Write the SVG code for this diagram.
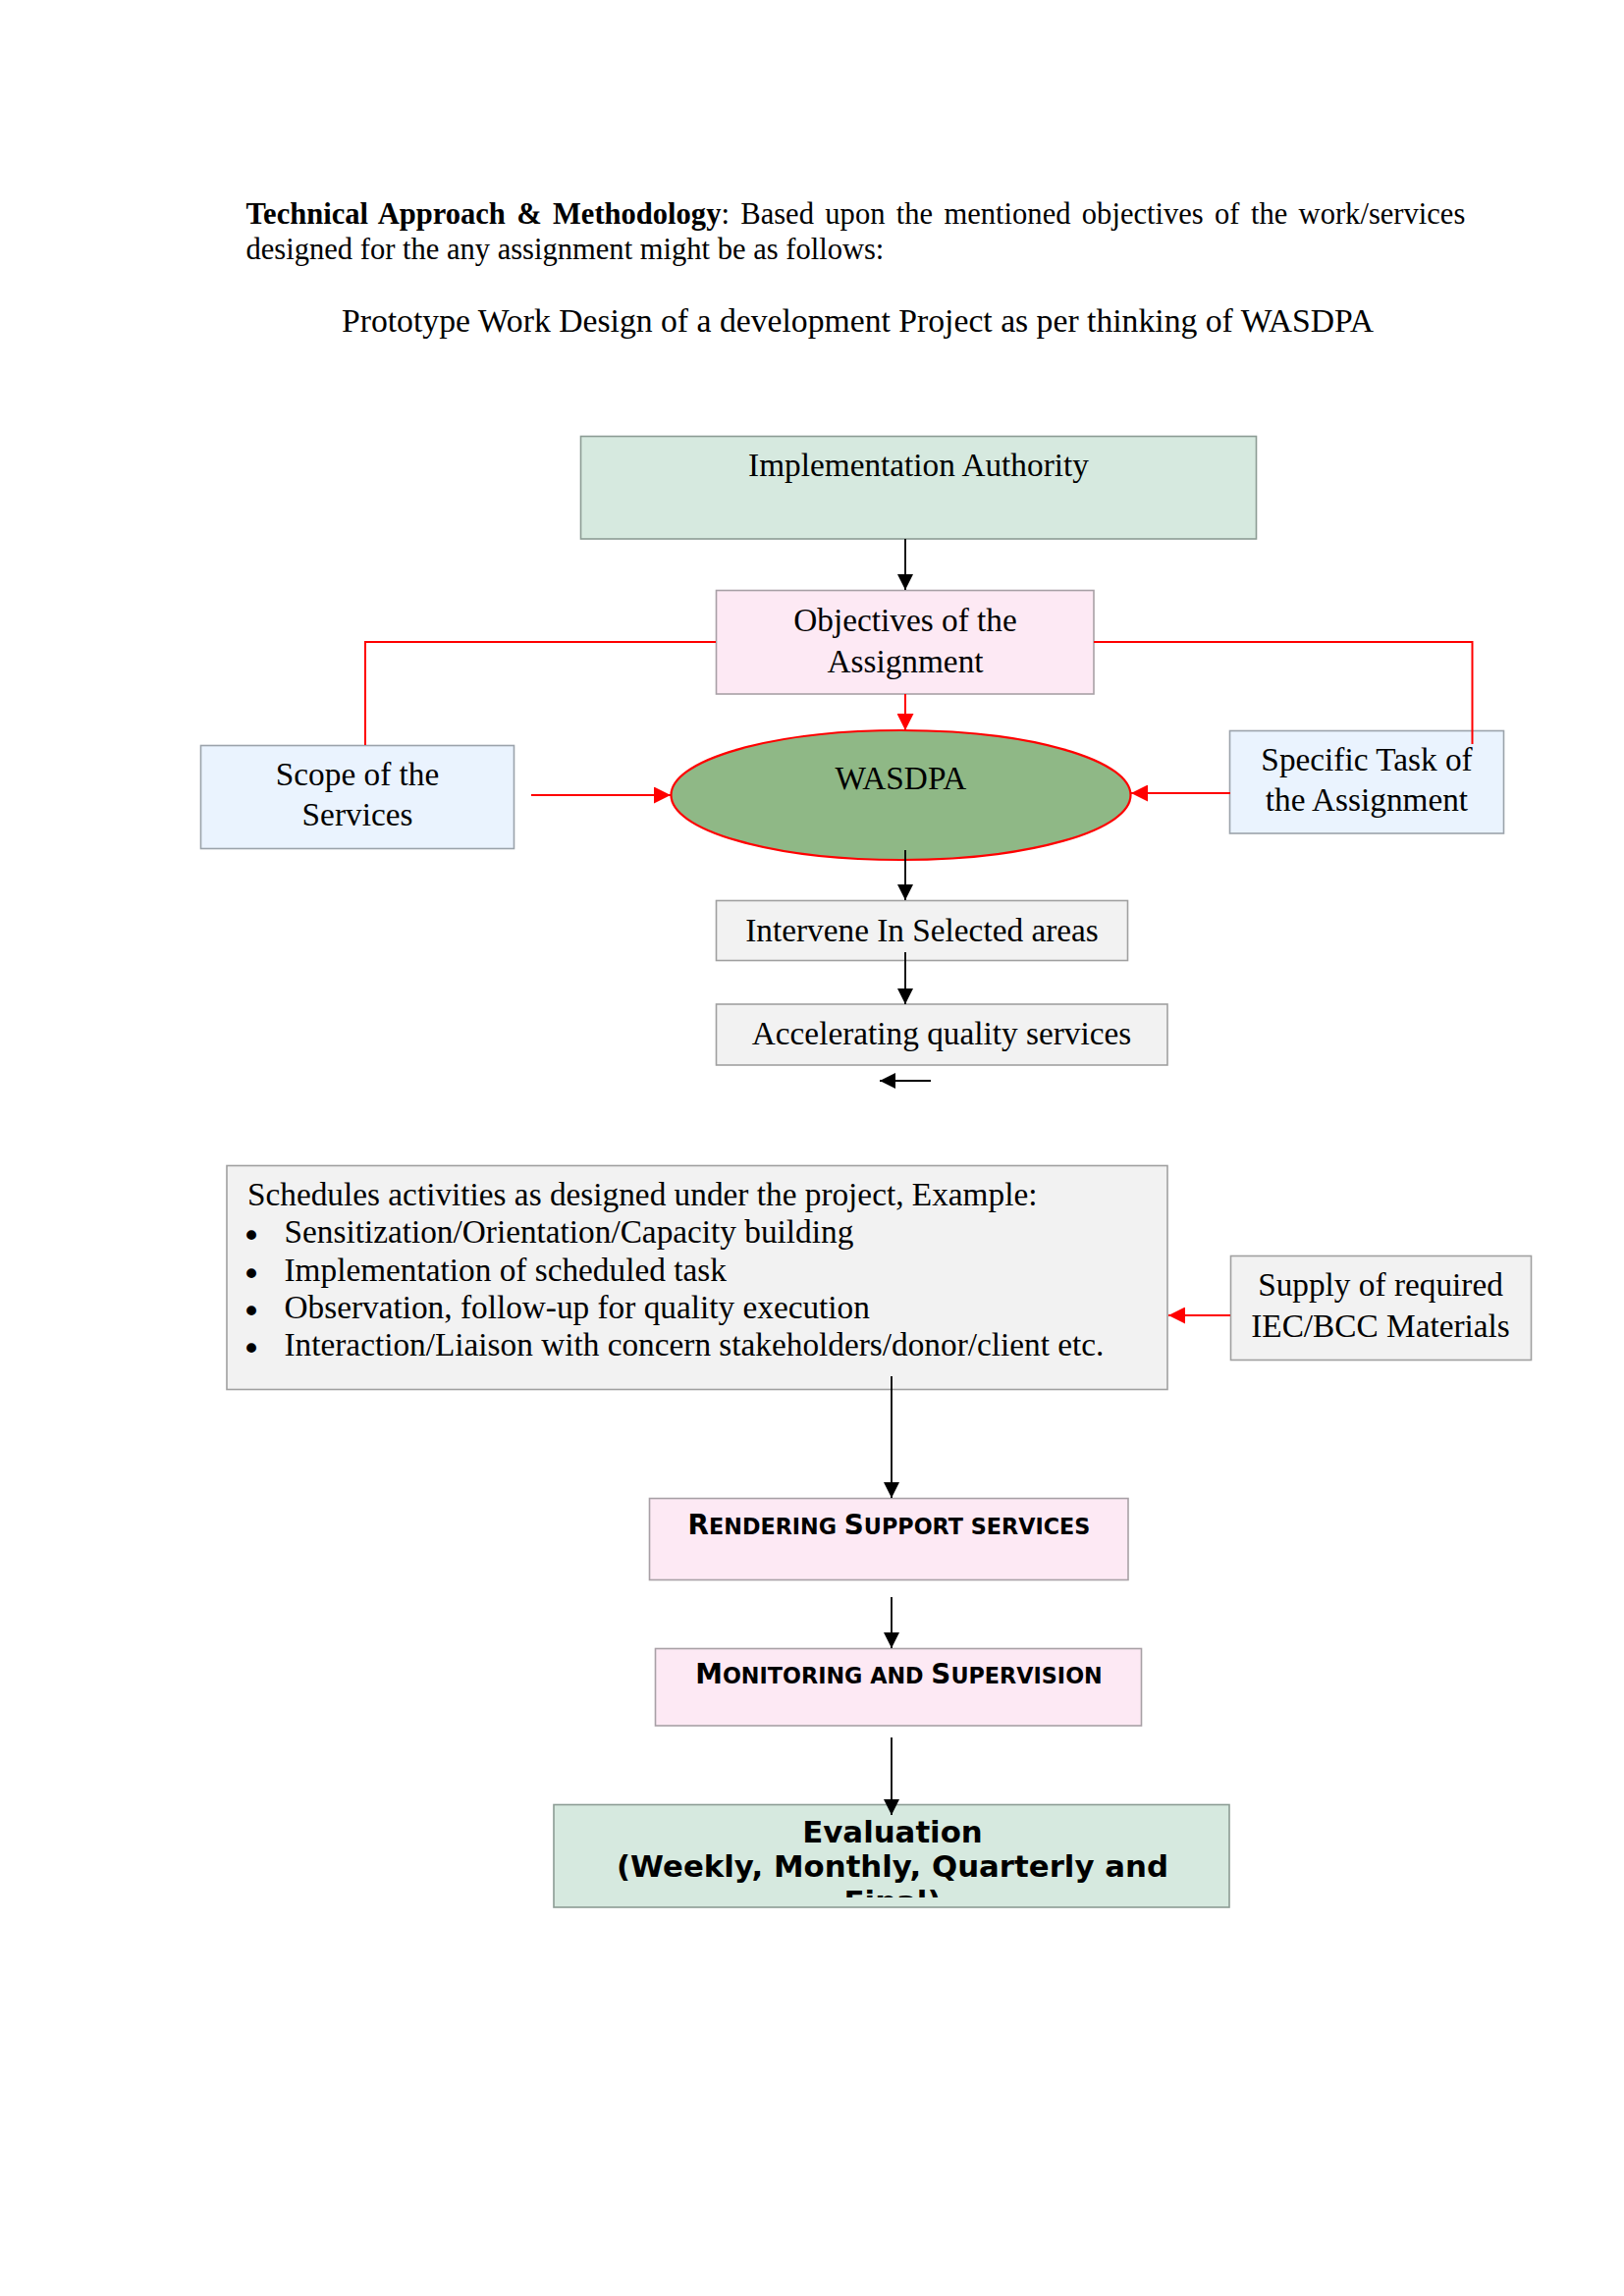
<svg xmlns="http://www.w3.org/2000/svg" width="1654" height="2339" viewBox="0 0 1654 2339">
<style>
.serif{font-family:"Liberation Serif","Times New Roman",serif;fill:#000}
.body{font-size:30.56px}
.dg{font-size:33.3px}
.sans{font-family:"DejaVu Sans","Liberation Sans",sans-serif;font-weight:bold;font-size:30.8px;fill:#000}
.scap{font-family:"DejaVu Sans","Liberation Sans",sans-serif;font-weight:bold;font-size:27.8px;fill:#000}
.sm{font-size:22.3px}
.bul{font-family:"DejaVu Sans","Liberation Sans",sans-serif;font-size:34px;fill:#000}
.green{fill:#d6e9df;stroke:#8c9c94;stroke-width:1.6}
.pink{fill:#fde9f4;stroke:#a8a0a6;stroke-width:1.6}
.blue{fill:#eaf3fe;stroke:#9ba3ab;stroke-width:1.6}
.gray{fill:#f2f2f2;stroke:#a0a0a0;stroke-width:1.6}
.blk{stroke:#000;stroke-width:1.8;fill:none}
.red{stroke:#ff0000;stroke-width:2;fill:none}
</style>
<defs>
<marker id="ab" markerUnits="userSpaceOnUse" markerWidth="16" markerHeight="16" refX="16" refY="8" orient="auto">
<path d="M0,0 L16,8 L0,16 z" fill="#000"/>
</marker>
<marker id="ar" markerUnits="userSpaceOnUse" markerWidth="17" markerHeight="17" refX="17" refY="8.5" orient="auto">
<path d="M0,0 L17,8.5 L0,17 z" fill="#ff0000"/>
</marker>
<clipPath id="evalclip"><rect x="564" y="1838" width="688" height="95"/></clipPath>
</defs>
<rect width="1654" height="2339" fill="#fff"/>

<g id="header">
<text class="serif body" x="250.5" y="228" word-spacing="3.75"><tspan font-weight="bold">Technical Approach &amp; Methodology</tspan>: Based upon the mentioned objectives of the work/services</text>
<text class="serif body" x="250.5" y="264">designed for the any assignment might be as follows:</text>
<text class="serif" font-size="33.7" x="873.5" y="338" text-anchor="middle">Prototype Work Design of a development Project as per thinking of WASDPA</text>
</g>

<g id="implementation-authority">
<rect class="green" x="591.5" y="444.5" width="688" height="104.5"/>
<text class="serif dg" x="935.5" y="485" text-anchor="middle">Implementation Authority</text>
</g>

<g id="objectives">
<rect class="pink" x="729.5" y="601.5" width="384.5" height="105.5"/>
<text class="serif dg" x="922" y="643" text-anchor="middle">Objectives of the</text>
<text class="serif dg" x="922" y="684.5" text-anchor="middle">Assignment</text>
</g>

<g id="scope">
<rect class="blue" x="204.5" y="759.5" width="319" height="105"/>
<text class="serif dg" x="364" y="800" text-anchor="middle">Scope of the</text>
<text class="serif dg" x="364" y="841" text-anchor="middle">Services</text>
</g>

<g id="wasdpa">
<ellipse cx="917.5" cy="810" rx="234" ry="66" fill="#8fb886" stroke="#ff0000" stroke-width="2.2"/>
<text class="serif dg" x="917.5" y="804" text-anchor="middle">WASDPA</text>
</g>

<g id="specific-task">
<rect class="blue" x="1252.5" y="744.5" width="279" height="104.5"/>
<text class="serif dg" x="1392" y="785" text-anchor="middle">Specific Task of</text>
<text class="serif dg" x="1392" y="826" text-anchor="middle">the Assignment</text>
</g>

<g id="intervene">
<rect class="gray" x="729.5" y="917.5" width="419" height="61"/>
<text class="serif dg" x="939" y="959" text-anchor="middle">Intervene In Selected areas</text>
</g>

<g id="accelerating">
<rect class="gray" x="729.5" y="1023" width="459.5" height="62"/>
<text class="serif dg" x="959" y="1064" text-anchor="middle">Accelerating quality services</text>
</g>

<g id="schedules">
<rect class="gray" x="231" y="1187.5" width="958" height="228"/>
<text class="serif dg" x="252" y="1228">Schedules activities as designed under the project, Example:</text>
<text class="bul" x="246" y="1271">•</text>
<text class="serif dg" x="289.5" y="1266">Sensitization/Orientation/Capacity building</text>
<text class="bul" x="246" y="1309.5">•</text>
<text class="serif dg" x="289.5" y="1304.5">Implementation of scheduled task</text>
<text class="bul" x="246" y="1348">•</text>
<text class="serif dg" x="289.5" y="1343">Observation, follow-up for quality execution</text>
<text class="bul" x="246" y="1386">•</text>
<text class="serif dg" x="289.5" y="1381">Interaction/Liaison with concern stakeholders/donor/client etc.</text>
</g>

<g id="supply">
<rect class="gray" x="1253.5" y="1279.5" width="306" height="106"/>
<text class="serif dg" x="1406" y="1320" text-anchor="middle">Supply of required</text>
<text class="serif dg" x="1406" y="1361.5" text-anchor="middle">IEC/BCC Materials</text>
</g>

<g id="rendering">
<rect class="pink" x="661.5" y="1526.5" width="487.5" height="83"/>
<text class="scap" x="905.5" y="1562.5" text-anchor="middle">R<tspan class="sm">ENDERING </tspan>S<tspan class="sm">UPPORT SERVICES</tspan></text>
</g>

<g id="monitoring">
<rect class="pink" x="667.5" y="1679.5" width="495" height="78.5"/>
<text class="scap" x="915.5" y="1715" text-anchor="middle">M<tspan class="sm">ONITORING AND </tspan>S<tspan class="sm">UPERVISION</tspan></text>
</g>

<g id="evaluation">
<rect class="green" x="564" y="1838.5" width="688" height="104.5"/>
<g clip-path="url(#evalclip)">
<text class="sans" x="909" y="1876.5" text-anchor="middle">Evaluation</text>
<text class="sans" x="909" y="1912" text-anchor="middle">(Weekly, Monthly, Quarterly and</text>
<text class="sans" x="909" y="1948" text-anchor="middle">Final)</text>
</g>
</g>

<g id="connectors">
<line class="blk" x1="922" y1="549" x2="922" y2="601" marker-end="url(#ab)"/>
<line class="red" x1="922" y1="707" x2="922" y2="744" marker-end="url(#ar)"/>
<polyline class="red" points="729,654 372,654 372,759"/>
<polyline class="red" points="1114,654 1499.5,654 1499.5,758"/>
<line class="red" x1="541" y1="810" x2="683" y2="810" marker-end="url(#ar)"/>
<line class="red" x1="1253" y1="808" x2="1152" y2="808" marker-end="url(#ar)"/>
<line class="blk" x1="922" y1="866" x2="922" y2="917" marker-end="url(#ab)"/>
<line class="blk" x1="922" y1="970" x2="922" y2="1023" marker-end="url(#ab)"/>
<line class="blk" x1="948" y1="1101" x2="896" y2="1101" marker-end="url(#ab)"/>
<line class="red" x1="1253" y1="1340" x2="1190" y2="1340" marker-end="url(#ar)"/>
<line class="blk" x1="908" y1="1402" x2="908" y2="1526" marker-end="url(#ab)"/>
<line class="blk" x1="908" y1="1627" x2="908" y2="1679" marker-end="url(#ab)"/>
<line class="blk" x1="908" y1="1770" x2="908" y2="1849" marker-end="url(#ab)"/>
</g>
</svg>
